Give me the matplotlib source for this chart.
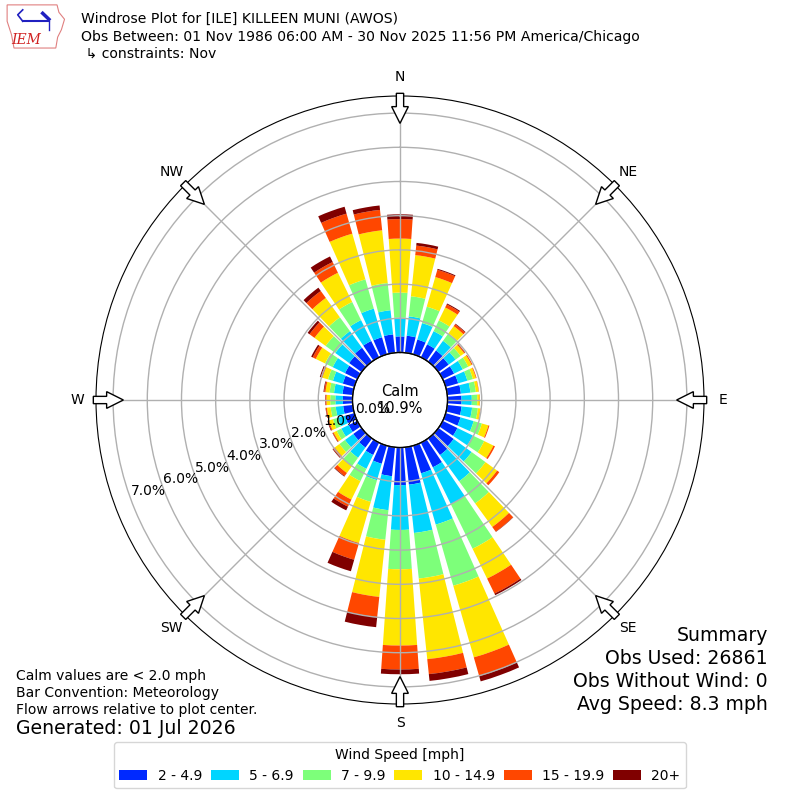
import numpy as np
import matplotlib
matplotlib.use('Agg')
import matplotlib.pyplot as plt
from matplotlib.patches import FancyArrow, Polygon

# wind direction bins (degrees, meteorological)
directions = list(range(0, 360, 10))

# percent of obs per speed bin, one value per direction (0, 10, ... 350)
spd_2_5 = [0.47, 0.50, 0.45, 0.42, 0.40, 0.37, 0.37, 0.38, 0.40, 0.41, 0.42, 0.45,
           0.48, 0.55, 0.60, 0.80, 0.84, 1.10, 1.10, 0.85, 0.55, 0.40, 0.33, 0.30,
           0.28, 0.28, 0.28, 0.28, 0.30, 0.35, 0.40, 0.45, 0.50, 0.53, 0.52, 0.54]
spd_5_7 = [0.55, 0.57, 0.50, 0.43, 0.35, 0.25, 0.28, 0.28, 0.28, 0.30, 0.31, 0.40,
           0.50, 0.65, 0.95, 1.20, 1.56, 1.42, 1.31, 1.00, 0.50, 0.45, 0.37, 0.30,
           0.24, 0.22, 0.22, 0.22, 0.25, 0.30, 0.40, 0.50, 0.60, 0.68, 0.87, 0.71]
spd_7_10 = [0.73, 0.59, 0.50, 0.35, 0.27, 0.18, 0.18, 0.17, 0.16, 0.16, 0.17, 0.25,
            0.37, 0.50, 0.80, 1.45, 1.86, 1.34, 1.15, 0.87, 0.66, 0.40, 0.30, 0.20,
            0.15, 0.15, 0.15, 0.15, 0.13, 0.15, 0.25, 0.35, 0.50, 0.59, 0.89, 0.80]
spd_10_15 = [1.58, 1.21, 0.90, 0.42, 0.26, 0.13, 0.11, 0.09, 0.08, 0.07, 0.07, 0.20,
             0.30, 0.42, 0.85, 0.97, 2.18, 2.37, 2.23, 1.68, 1.25, 0.60, 0.25, 0.17,
             0.10, 0.12, 0.11, 0.11, 0.12, 0.17, 0.30, 0.40, 0.70, 0.95, 1.39, 1.55]
spd_15_20 = [0.57, 0.28, 0.22, 0.10, 0.07, 0.03, 0.03, 0.02, 0.01, 0.01, 0.01, 0.03,
             0.05, 0.08, 0.17, 0.49, 0.57, 0.44, 0.70, 0.59, 0.51, 0.23, 0.11, 0.06,
             0.03, 0.03, 0.03, 0.03, 0.04, 0.05, 0.10, 0.18, 0.25, 0.35, 0.61, 0.60]
spd_20 = [0.14, 0.08, 0.03, 0.03, 0.02, 0.01, 0.00, 0.00, 0.00, 0.00, 0.00, 0.00,
          0.00, 0.00, 0.01, 0.05, 0.16, 0.20, 0.14, 0.30, 0.35, 0.12, 0.02, 0.02,
          0.01, 0.02, 0.01, 0.01, 0.02, 0.03, 0.05, 0.07, 0.12, 0.18, 0.21, 0.13]

bin_labels = ['2 - 4.9', '5 - 6.9', '7 - 9.9', '10 - 14.9', '15 - 19.9', '20+']
calm_pct = 10.9
rticks = [0, 1, 2, 3, 4, 5, 6, 7]
compass = ['N', 'NE', 'E', 'SE', 'S', 'SW', 'W', 'NW']

series = [spd_2_5, spd_5_7, spd_7_10, spd_10_15, spd_15_20, spd_20]
colors = plt.get_cmap('jet')(np.linspace(0, 1, 7)[1:])

fig = plt.figure(figsize=(8, 8), dpi=100)
ax = fig.add_axes([0.12, 0.12, 0.76, 0.76], projection='polar')
ax.set_theta_zero_location('N')
ax.set_theta_direction(-1)

theta = np.deg2rad(directions)
width = np.deg2rad(8)
base = np.zeros(len(directions))
handles = []
for vals, col, lab in zip(series, colors, bin_labels):
    vals = np.array(vals)
    b = ax.bar(theta, vals, width=width, bottom=base, color=col, linewidth=0, label=lab)
    handles.append(b)
    base = base + vals

ax.set_ylim(0, 7.5)
ax.set_rorigin(-1.39)
ax.set_yticks(rticks)
ax.set_yticklabels(['%.1f%%' % t for t in rticks], fontsize=10)
ax.set_rlabel_position(250)
ax.set_xticks(np.deg2rad(np.arange(0, 360, 45)))
ax.set_xticklabels([])
ax.grid(True, color='#b0b0b0', lw=1)
ax.set_axisbelow(False)

# calm circle edge
tt = np.linspace(0, 2 * np.pi, 300)
ax.plot(tt, np.zeros_like(tt), color='k', lw=1, zorder=4, clip_on=False)
ax.text(0.5, 0.5, 'Calm\n%.1f%%' % calm_pct, transform=ax.transAxes,
        ha='center', va='center', fontsize=10.5, zorder=5)

# compass labels and flow arrows
for i, lab in enumerate(compass):
    a = np.deg2rad(i * 45)
    ux, uy = np.sin(a), np.cos(a)
    ax.text(0.5 + 0.531 * ux, 0.5 + 0.531 * uy, lab, transform=ax.transAxes,
            ha='center', va='center', fontsize=10)
    arr = FancyArrow(0.5 + 0.5044 * ux, 0.5 + 0.5044 * uy, -0.0494 * ux, -0.0494 * uy,
                     width=0.012, head_width=0.0275, head_length=0.0275,
                     length_includes_head=True, fc='white', ec='k', lw=1,
                     transform=ax.transAxes, clip_on=False, zorder=6)
    ax.add_patch(arr)

# header
fig.text(0.101, 0.976, 'Windrose Plot for [ILE] KILLEEN MUNI (AWOS)', fontsize=10.1, va='center')
fig.text(0.101, 0.954, 'Obs Between: 01 Nov 1986 06:00 AM - 30 Nov 2025 11:56 PM America/Chicago',
         fontsize=10.1, va='center')
fig.text(0.101, 0.9325, ' \u21b3 constraints: Nov', fontsize=10.1, va='center')

# logo
lax = fig.add_axes([0.005, 0.935, 0.078, 0.062])
lax.set_xlim(0, 1)
lax.set_ylim(0, 1)
lax.axis('off')
iowa = [(0.05, 0.95), (0.85, 0.95), (0.88, 0.8), (0.97, 0.66), (0.92, 0.45), (0.86, 0.3),
        (0.83, 0.08), (0.16, 0.08), (0.12, 0.35), (0.05, 0.62)]
lax.add_patch(Polygon(iowa, closed=True, fill=False, ec='#e08080', lw=0.8))
lax.text(0.35, 0.25, 'IEM', color='#d02020', fontsize=10, style='italic',
         family='DejaVu Serif', ha='center', va='center')
lax.plot([0.3, 0.72], [0.62, 0.62], color='#2020c0', lw=1.5)
lax.plot([0.3, 0.22, 0.3], [0.62, 0.75, 0.85], color='#2020c0', lw=1.2)
lax.plot([0.62, 0.72], [0.78, 0.66], color='#2020c0', lw=2.5)
lax.plot([0.72, 0.72], [0.62, 0.45], color='#2020c0', lw=1)

# notes
fig.text(0.02, 0.155, 'Calm values are < 2.0 mph', fontsize=10, va='center')
fig.text(0.02, 0.134, 'Bar Convention: Meteorology', fontsize=10, va='center')
fig.text(0.02, 0.112, 'Flow arrows relative to plot center.', fontsize=10, va='center')
fig.text(0.02, 0.09, 'Generated: 01 Jul 2026', fontsize=13.6, va='center')

fig.text(0.96, 0.206, 'Summary', fontsize=13.6, ha='right', va='center')
fig.text(0.96, 0.1775, 'Obs Used: 26861', fontsize=13.6, ha='right', va='center')
fig.text(0.96, 0.148, 'Obs Without Wind: 0', fontsize=13.6, ha='right', va='center')
fig.text(0.96, 0.119, 'Avg Speed: 8.3 mph', fontsize=13.6, ha='right', va='center')

fig.legend(handles=handles, loc='lower center', bbox_to_anchor=(0.5, 0.0146), ncol=6,
           title='Wind Speed [mph]', fontsize=10, title_fontsize=10,
           columnspacing=0.65, handletextpad=0.75, borderaxespad=0)

fig.savefig('out.png', dpi=100, facecolor='white')
